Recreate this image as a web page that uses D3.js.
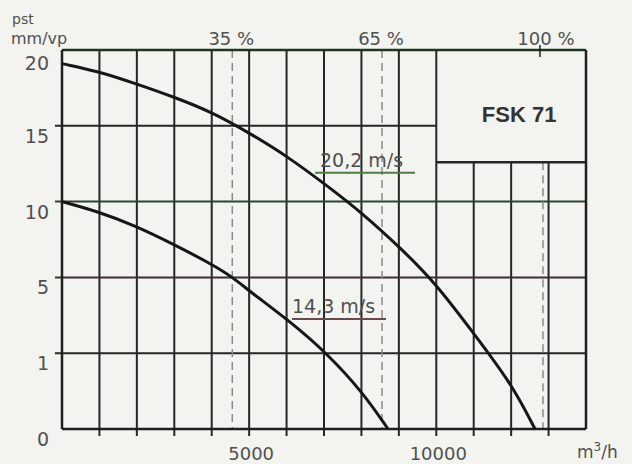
<!DOCTYPE html>
<html>
<head>
<meta charset="utf-8">
<script src="https://cdn.jsdelivr.net/npm/d3@7"></script>
<style>
  html, body { margin: 0; padding: 0; background: #f3f4ef; }
  svg { display: block; }
  text { font-family: "DejaVu Sans", sans-serif; fill: #505050; }
</style>
</head>
<body>
<svg id="chart" width="632" height="464"></svg>
<script>
// ---- data ----
const yTicks = [0, 1, 5, 10, 15, 20];
const yGridValues = [1, 5, 10, 15];
const xTickLabels = [5000, 10000];
const xGridValues = [1000, 2000, 3000, 4000, 5000, 6000, 7000, 8000, 9000, 10000, 11000, 12000, 13000];
const percentLabels = ["35 %", "65 %", "100 %"];
const percentFlows = [4550, 8550, 12850];

// curve 20,2 m/s
const flowHigh  = [0, 962, 1950, 2992, 4008, 5023, 6011, 7053, 8042, 9030, 9992, 10980, 11996, 12637];
const pressHigh = [19.1, 18.6, 17.8, 16.9, 15.9, 14.5, 13.0, 11.1, 9.2, 6.97, 4.68, 2.09, 0.61, 0];
// curve 14,3 m/s
const flowLow  = [0, 962, 1950, 2992, 4008, 4569, 5023, 6038, 7080, 8041, 8710];
const pressLow = [10, 9.34, 8.42, 7.17, 5.86, 5, 4.25, 2.76, 1, 0.48, 0];

const curveNames = ["20,2 m/s", "14,3 m/s"];
const modelName = "FSK 71";
const boxFlowStart = 10000;
const boxPressBottom = 12.6;

// ---- layout ----
const pLeft = 62, pRight = 586, pTop = 50, pBottom = 429;
const svg = d3.select("#chart");

const x = d3.scaleLinear().domain([0, 14000]).range([pLeft, pRight]);
const y = d3.scaleLinear()
  .domain(yTicks)
  .range(yTicks.map((d, i) => pBottom - i * (pBottom - pTop) / (yTicks.length - 1)));

const gridColor = "#262626";
const hColors = { 1: "#262626", 5: "#3e2a38", 10: "#2c432c", 15: "#262626" };

// vertical grid lines
xGridValues.forEach(v => {
  const inBox = v > boxFlowStart;
  svg.append("line")
    .attr("x1", x(v)).attr("x2", x(v))
    .attr("y1", inBox ? y(boxPressBottom) : y(20)).attr("y2", y(0) + 7)
    .attr("stroke", gridColor).attr("stroke-width", 2);
});

// horizontal grid lines
yGridValues.forEach(v => {
  const inBox = v > boxPressBottom;
  svg.append("line")
    .attr("x1", x(0) - 7).attr("x2", inBox ? x(boxFlowStart) : x(14000))
    .attr("y1", y(v)).attr("y2", y(v))
    .attr("stroke", hColors[v]).attr("stroke-width", 2);
});

// dashed percentage lines
percentFlows.forEach((v, i) => {
  const inBox = v > boxFlowStart;
  svg.append("line")
    .attr("x1", x(v)).attr("x2", x(v))
    .attr("y1", inBox ? y(boxPressBottom) : y(20)).attr("y2", y(0))
    .attr("stroke", "#8a8a8a").attr("stroke-width", 1.5)
    .attr("stroke-dasharray", "8,5");
});

// box border
svg.append("line")
  .attr("x1", x(boxFlowStart)).attr("x2", x(14000))
  .attr("y1", y(boxPressBottom)).attr("y2", y(boxPressBottom))
  .attr("stroke", gridColor).attr("stroke-width", 2.5);

// frame
svg.append("line").attr("x1", pLeft).attr("x2", pRight).attr("y1", pTop).attr("y2", pTop)
  .attr("stroke", "#1f351f").attr("stroke-width", 2.5);
svg.append("line").attr("x1", pLeft).attr("x2", pRight).attr("y1", pBottom).attr("y2", pBottom)
  .attr("stroke", "#1f1f1f").attr("stroke-width", 2.5);
svg.append("line").attr("x1", pLeft).attr("x2", pLeft).attr("y1", pTop).attr("y2", pBottom)
  .attr("stroke", "#1f1f1f").attr("stroke-width", 2.5);
svg.append("line").attr("x1", pRight).attr("x2", pRight).attr("y1", pTop).attr("y2", pBottom)
  .attr("stroke", "#1f1f1f").attr("stroke-width", 2.5);

// 100% tick on top
svg.append("line")
  .attr("x1", x(percentFlows[2]) - 3).attr("x2", x(percentFlows[2]) - 3)
  .attr("y1", pTop - 5).attr("y2", pTop + 7)
  .attr("stroke", "#1f1f1f").attr("stroke-width", 1.5);

// curves
const line = d3.line().x(d => x(d[0])).y(d => y(d[1])).curve(d3.curveBasis);
svg.append("path")
  .datum(flowHigh.map((f, i) => [f, pressHigh[i]]))
  .attr("d", line).attr("fill", "none").attr("stroke", "#161616").attr("stroke-width", 3);
svg.append("path")
  .datum(flowLow.map((f, i) => [f, pressLow[i]]))
  .attr("d", line).attr("fill", "none").attr("stroke", "#161616").attr("stroke-width", 3);

// curve labels
svg.append("text").attr("x", x(6893)).attr("y", y(12.3))
  .attr("font-size", 19).text(curveNames[0]);
svg.append("line").attr("x1", x(6760)).attr("x2", x(9431)).attr("y1", y(11.9)).attr("y2", y(11.9))
  .attr("stroke", "#4f7a45").attr("stroke-width", 2);
svg.append("text").attr("x", x(6145)).attr("y", y(3.13))
  .attr("font-size", 19).text(curveNames[1]);
svg.append("line").attr("x1", x(6145)).attr("x2", x(8656)).attr("y1", y(2.81)).attr("y2", y(2.81))
  .attr("stroke", "#6a4850").attr("stroke-width", 2);

// model name
svg.append("text")
  .attr("x", (x(boxFlowStart) + x(14000)) / 2 + 8).attr("y", 122)
  .attr("text-anchor", "middle")
  .style("font-family", "'Liberation Sans', Arial, sans-serif")
  .attr("font-weight", "bold").attr("font-size", 22)
  .style("fill", "#333")
  .text(modelName);

// y tick labels
yTicks.forEach(v => {
  svg.append("text")
    .attr("x", pLeft - 13).attr("y", y(v) + (v === 20 ? 20 : 17))
    .attr("text-anchor", "end").attr("font-size", 19)
    .text(v);
});

// x tick labels
xTickLabels.forEach(v => {
  svg.append("text")
    .attr("x", x(v) + 2).attr("y", 460)
    .attr("text-anchor", "middle").attr("font-size", 18)
    .text(v);
});

// percent labels
percentLabels.forEach((t, i) => {
  svg.append("text")
    .attr("x", x(percentFlows[i]) + (i === 2 ? 3 : -1)).attr("y", 45)
    .attr("text-anchor", "middle").attr("font-size", 18)
    .text(t);
});

// axis titles
svg.append("text").attr("x", 12).attr("y", 24).attr("font-size", 14).text("pst");
svg.append("text").attr("x", 11).attr("y", 44).attr("font-size", 16).text("mm/vp");
const unit = svg.append("text").attr("x", 577).attr("y", 458).attr("font-size", 17);
unit.append("tspan").text("m");
unit.append("tspan").attr("dy", -7).attr("font-size", 12).text("3");
unit.append("tspan").attr("dy", 7).text("/h");
</script>
</body>
</html>
